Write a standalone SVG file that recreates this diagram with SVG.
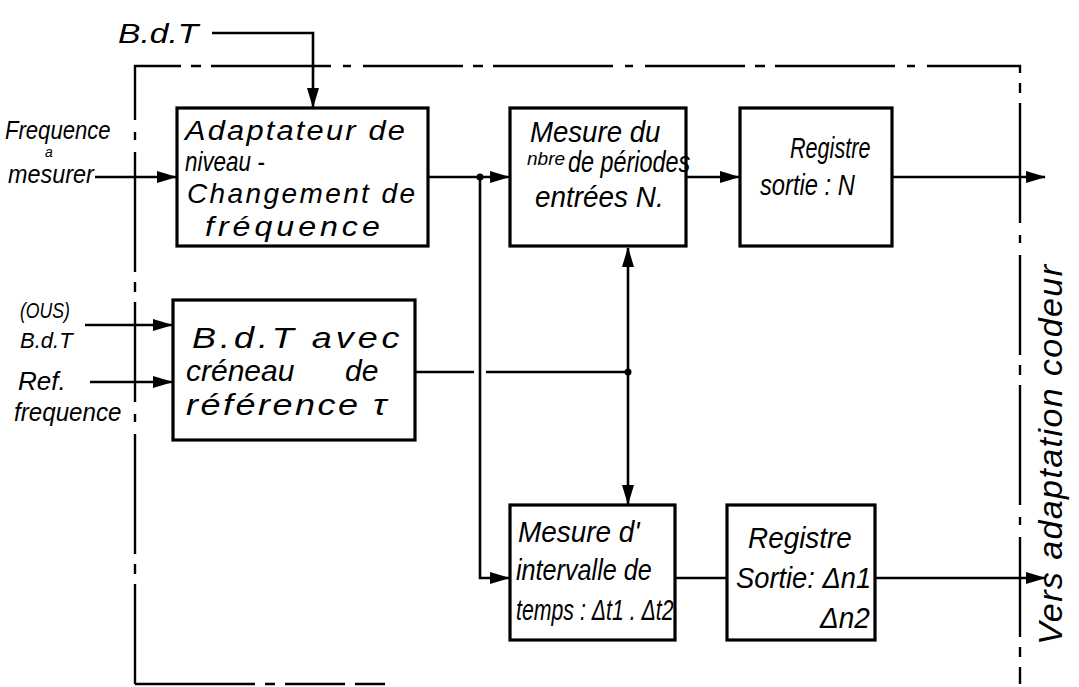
<svg xmlns="http://www.w3.org/2000/svg" width="1079" height="687" viewBox="0 0 1079 687">
<style>
.box{fill:#fff;stroke:#000;stroke-width:3.2}
.ln{fill:none;stroke:#000;stroke-width:2.6}
.bd{fill:none;stroke:#000;stroke-width:2.4}
text{font-family:"Liberation Sans",Arial,sans-serif;font-style:italic;fill:#000}
.t{font-size:30px}
.u{font-size:28px}
.s{font-size:26px}
.m{font-size:22px}
</style>
<defs>
<marker id="ah" viewBox="0 0 20 12" refX="19" refY="6" markerWidth="20" markerHeight="12" markerUnits="userSpaceOnUse" orient="auto">
<path d="M0,0 L20,6 L0,12 Z" fill="#000"/>
</marker>
</defs>
<rect width="1079" height="687" fill="#fff"/>
<g id="boundary">
<path class="bd" d="M135,684 V66 H1020 V684" stroke-dasharray="100 10 10 10 120 12 8 12"/>
<path class="bd" d="M135,684 H430" stroke-dasharray="120 10 10 10 60 10 30"/>
</g>
<g id="connectors">
<path class="ln" d="M212,33 H313 V107" marker-end="url(#ah)"/>
<path class="ln" d="M95,177 H176" marker-end="url(#ah)"/>
<path class="ln" d="M85,325 H172" marker-end="url(#ah)"/>
<path class="ln" d="M90,382 H172" marker-end="url(#ah)"/>
<path class="ln" d="M428,177 H509" marker-end="url(#ah)"/>
<path class="ln" d="M480,177 V578 H509" marker-end="url(#ah)"/>
<path class="ln" d="M686,177 H739" marker-end="url(#ah)"/>
<path class="ln" d="M892,177 H1045" marker-end="url(#ah)"/>
<path class="ln" d="M415,372 H474 M486,372 H628"/>
<path class="ln" d="M628,372 V248" marker-end="url(#ah)"/>
<path class="ln" d="M628,372 V504" marker-end="url(#ah)"/>
<path class="ln" d="M675,578 H727"/>
<path class="ln" d="M875,578 H1045" marker-end="url(#ah)"/>
<circle cx="480" cy="177" r="3.5"/>
<circle cx="628" cy="372" r="3.5"/>
</g>
<g id="labels">
<text transform="translate(118,43) scale(1.2,1)" font-size="28">B.d.T</text>
<text class="s" transform="translate(5,139) scale(0.85,1)">Frequence</text>
<text x="45" y="157" font-size="14">a</text>
<text class="s" transform="translate(8,183) scale(0.9,1)">mesurer</text>
<text class="m" transform="translate(20,318) scale(0.8,1)">(OUS)</text>
<text class="m" x="20" y="348">B.d.T</text>
<text class="s" x="18" y="390">Ref.</text>
<text class="s" transform="translate(14,421) scale(0.93,1)">frequence</text>
<text transform="translate(1062,645) rotate(-90)" font-size="34" textLength="380">Vers adaptation codeur</text>
</g>
<g id="n1">
<rect class="box" x="177" y="108" width="251" height="138"/>
<text class="u" transform="translate(185,140) scale(1.1,1)" textLength="200">Adaptateur de</text>
<text class="u" transform="translate(185,171) scale(0.8,1)">niveau -</text>
<text class="u" x="187" y="203" textLength="228">Changement de</text>
<text class="u" transform="translate(205,236) scale(1.15,1)" textLength="152">fréquence</text>
</g>
<g id="n2">
<rect class="box" x="510" y="108" width="176" height="138"/>
<text class="t" transform="translate(530,142) scale(0.92,1)">Mesure du</text>
<text x="527" y="165" font-size="19">nbre</text>
<text class="t" transform="translate(568,172) scale(0.78,1)">de périodes</text>
<text class="t" transform="translate(535,207) scale(0.93,1)">entrées N.</text>
</g>
<g id="n3">
<rect class="box" x="740" y="108" width="152" height="138"/>
<text class="t" transform="translate(790,158) scale(0.72,1)">Registre</text>
<text class="t" transform="translate(760,195) scale(0.79,1)">sortie : N</text>
</g>
<g id="n4">
<rect class="box" x="173" y="300" width="242" height="140"/>
<text class="t" transform="translate(192,348) scale(1.2,1)" textLength="173">B.d.T avec</text>
<text class="t" y="381"><tspan x="186">créneau</tspan><tspan x="345">de</tspan></text>
<text class="t" transform="translate(186,415) scale(1.2,1)" textLength="167">référence τ</text>
</g>
<g id="n5">
<rect class="box" x="510" y="505" width="165" height="135"/>
<text class="t" transform="translate(518,542) scale(0.93,1)">Mesure d'</text>
<text class="t" transform="translate(516,580) scale(0.84,1)">intervalle de</text>
<text class="t" transform="translate(516,620) scale(0.71,1)">temps : Δt1 . Δt2</text>
</g>
<g id="n6">
<rect class="box" x="727" y="505" width="148" height="135"/>
<text class="t" transform="translate(748,548) scale(0.93,1)">Registre</text>
<text class="t" transform="translate(736,588) scale(0.91,1)">Sortie: Δn1</text>
<text class="t" transform="translate(820,628) scale(0.93,1)">Δn2</text>
</g>
</svg>
